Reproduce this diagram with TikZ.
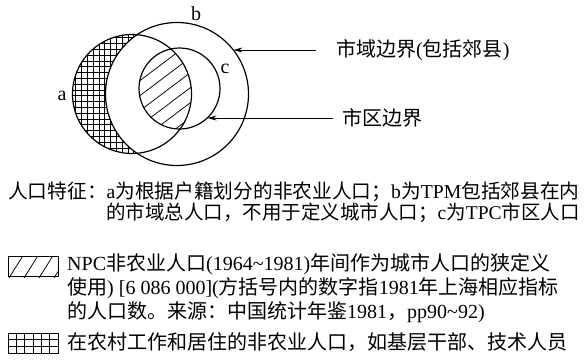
\documentclass[tikz,border=0pt]{standalone}
\usepackage{fontspec}
\setmainfont{Liberation Serif}
\newfontfamily\cjk{Noto Sans CJK SC}
\usetikzlibrary{arrows.meta}
\newcommand\zh[1]{{\cjk #1}}
\begin{document}
\begin{tikzpicture}[x=1pt,y=-1pt,
  circ/.style={line width=1.2pt},
  hatchln/.style={line width=0.75pt},
  lbl/.style={font=\fontsize{20}{22}\selectfont, inner sep=0pt},
  txt/.style={font=\fontsize{20}{22}\selectfont, inner sep=0pt, anchor=west},
  arr/.style={line width=1pt, -{Stealth[length=9pt,width=5pt]}},
  legbox/.style={draw, line width=1pt, minimum width=50pt, minimum height=20pt, inner sep=0pt, anchor=north west}]
\useasboundingbox (0,0) rectangle (588,359);
\fill[white] (0,0) rectangle (588,359);
% circle centres
\coordinate (ca) at (132,94);
\coordinate (cb) at (177,94);
\coordinate (cc) at (179.5,88.5);
% cross hatch inside a (later covered by b)
\begin{scope}
\clip (ca) circle (59.5);
\foreach \x in {0,...,22} \draw[hatchln] ({70+\x*5.8},30) -- ({70+\x*5.8},160);
\foreach \y in {0,...,22} \draw[hatchln] (70,{32+\y*5.8}) -- (200,{32+\y*5.8});
\end{scope}
\fill[white] (cb) circle (71.5);
% diagonal hatch in a and c
\begin{scope}
\clip (ca) circle (59.5);
\clip (cc) circle (40.5);
\foreach \i in {-6,...,6}
  \draw[hatchln] ({170+\i*12*sin(37)-100*cos(37)},{88+\i*12*cos(37)+100*sin(37)})
    -- ({170+\i*12*sin(37)+100*cos(37)},{88+\i*12*cos(37)-100*sin(37)});
\end{scope}
\draw[circ] (ca) circle (59.5);
\draw[circ] (cb) circle (71.5);
\draw[circ] (cc) circle (40.5);
% labels
\node[lbl] (la) at (62,96) {a};
\node[lbl] (lb) at (196,14) {b};
\node[lbl] (lc) at (225,69) {c};
% boundary texts and arrows
\node[txt] (t1) at (336,50) {\zh{市域边界}(\zh{包括郊县})};
\node[txt] (t2) at (342,118) {\zh{市区边界}};
\coordinate (tipB) at (233.4,50);
\coordinate (tipC) at (207.5,118);
\draw[arr] ([xshift=-20pt]t1.west) -- (tipB);
\draw[arr] ([xshift=-9pt]t2.west) -- (tipC);
% description
\node[txt, font=\fontsize{19.7}{22}\selectfont] (d1) at (8,192) {\zh{人口特征：}a\zh{为根据户籍划分的非农业人口；}b\zh{为}TPM\zh{包括郊县在内}};
\node[txt, font=\fontsize{19.5}{22}\selectfont] (d2) at (106,213) {\zh{的市域总人口，不用于定义城市人口；}c\zh{为}TPC\zh{市区人口}};
% legend 1
\node[legbox] (box1) at (8,256) {};
\begin{scope}
\clip (box1.south west) rectangle (box1.north east);
\foreach \x in {-6,9,24,39,54}
  \draw[hatchln] ({\x},278) -- ({\x+15},254);
\end{scope}
\node[txt] (l1) at (67,264) {NPC\zh{非农业人口}(1964\textasciitilde1981)\zh{年间作为城市人口的狭定义}};
\node[txt] (l2) at (67,288) {\zh{使用}) [6 086 000](\zh{方括号内的数字指}1981\zh{年上海相应指标}};
\node[txt] (l3) at (67,312) {\zh{的人口数。来源：中国统计年鉴}1981\zh{，}pp90\textasciitilde92)};
% legend 2
\node[legbox] (box2) at (8,333) {};
\begin{scope}
\clip (box2.south west) rectangle (box2.north east);
\foreach \x in {1,...,5} \draw[hatchln] ({8+\x*50/6},333) -- ({8+\x*50/6},353);
\foreach \y in {1,2} \draw[hatchln] (8,{333+\y*20/3}) -- (58,{333+\y*20/3});
\end{scope}
\node[txt] (l4) at (67,342) {\zh{在农村工作和居住的非农业人口，如基层干部、技术人员}};
\end{tikzpicture}
\end{document}
